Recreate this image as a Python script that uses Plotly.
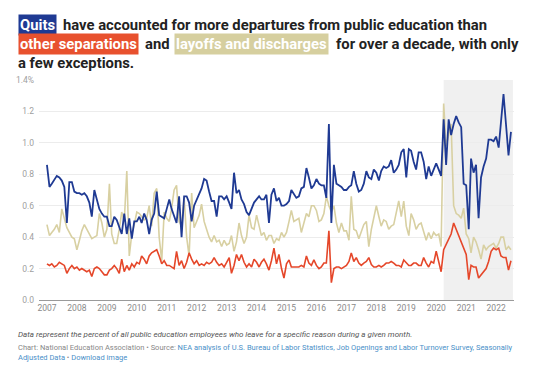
import pandas as pd
import plotly.graph_objects as go

# ---- data (percent of public education employees, monthly, Jan 2007 - Jul 2022) ----
quits = [
    0.86,0.72,0.74,0.77,0.79,0.78,0.76,0.72,0.49,0.75,0.75,0.69,   # 2007
    0.68,0.68,0.67,0.68,0.66,0.62,0.53,0.70,0.63,0.58,0.55,0.53,   # 2008
    0.53,0.47,0.47,0.53,0.51,0.46,0.42,0.55,0.42,0.52,0.39,0.50,   # 2009
    0.50,0.53,0.49,0.55,0.51,0.42,0.51,0.55,0.69,0.54,0.53,0.52,   # 2010
    0.58,0.64,0.58,0.53,0.49,0.66,0.40,0.66,0.66,0.62,0.50,0.60,   # 2011
    0.64,0.68,0.71,0.77,0.76,0.69,0.63,0.63,0.53,0.66,0.66,0.64,   # 2012
    0.66,0.62,0.58,0.81,0.68,0.70,0.64,0.61,0.56,0.54,0.58,0.62,   # 2013
    0.64,0.66,0.64,0.64,0.67,0.49,0.67,0.71,0.63,0.65,0.60,0.60,   # 2014
    0.61,0.63,0.70,0.67,0.65,0.66,0.71,0.72,0.84,0.78,0.71,0.73,   # 2015
    0.77,0.74,0.73,0.73,0.65,1.12,0.49,0.86,0.74,0.73,0.72,0.70,   # 2016
    0.70,0.72,0.73,0.82,0.74,0.69,0.70,0.74,0.82,0.78,0.77,0.83,   # 2017
    0.81,0.76,0.82,0.85,0.84,0.85,0.89,0.81,0.83,0.86,0.94,0.96,   # 2018
    0.78,0.96,0.95,0.88,0.83,0.94,0.94,0.88,0.77,0.85,0.79,0.83,   # 2019
    0.87,0.83,0.79,1.15,0.86,1.15,1.05,1.12,1.17,1.13,1.10,0.74,   # 2020
    0.73,0.45,0.90,0.81,0.86,0.52,0.78,0.85,0.90,1.02,1.02,1.01,   # 2021
    1.04,0.97,1.15,1.31,1.12,0.92,1.07,                            # 2022
]
layoffs = [
    0.48,0.41,0.43,0.45,0.48,0.43,0.58,0.52,0.46,0.43,0.40,0.39,
    0.32,0.38,0.44,0.48,0.45,0.42,0.39,0.40,0.41,0.55,0.49,0.40,
    0.45,0.74,0.42,0.36,0.36,0.45,0.56,0.50,0.82,0.28,0.42,0.48,
    0.56,0.55,0.53,0.51,0.52,0.60,0.47,0.68,0.71,0.40,0.25,0.56,
    0.52,0.50,0.58,0.70,0.73,0.50,0.47,0.65,0.40,0.28,0.68,0.46,
    0.50,0.54,0.61,0.50,0.45,0.40,0.37,0.41,0.37,0.38,0.34,0.38,
    0.35,0.36,0.41,0.31,0.37,0.49,0.41,0.36,0.40,0.54,0.46,0.45,
    0.54,0.48,0.41,0.43,0.38,0.41,0.41,0.36,0.39,0.38,0.43,0.40,
    0.43,0.50,0.57,0.50,0.51,0.52,0.43,0.49,0.55,0.53,0.60,0.60,
    0.57,0.50,0.51,0.55,0.66,0.60,0.56,0.60,0.49,0.43,0.49,0.44,
    0.44,0.38,0.66,0.45,0.44,0.39,0.43,0.48,0.50,0.34,0.45,0.52,
    0.60,0.53,0.47,0.51,0.50,0.45,0.47,0.48,0.55,0.63,0.53,0.63,
    0.47,0.41,0.55,0.51,0.45,0.48,0.49,0.43,0.38,0.43,0.39,0.43,
    0.41,0.42,0.34,1.25,0.98,1.05,1.12,0.60,0.55,0.54,0.52,0.585,
    0.42,0.39,0.30,0.40,0.37,0.32,0.26,0.35,0.32,0.34,0.35,0.36,
    0.33,0.36,0.40,0.40,0.32,0.34,0.32,
]
other = [
    0.23,0.22,0.23,0.21,0.22,0.24,0.23,0.22,0.17,0.20,0.22,0.20,
    0.21,0.19,0.20,0.19,0.18,0.19,0.15,0.20,0.21,0.20,0.18,0.16,
    0.16,0.19,0.20,0.22,0.20,0.17,0.26,0.18,0.22,0.19,0.23,0.21,
    0.24,0.23,0.28,0.26,0.23,0.28,0.30,0.31,0.32,0.28,0.23,0.25,
    0.22,0.22,0.21,0.20,0.31,0.22,0.25,0.20,0.24,0.30,0.26,0.23,
    0.25,0.22,0.23,0.22,0.24,0.23,0.24,0.27,0.24,0.22,0.23,0.21,
    0.24,0.27,0.17,0.22,0.29,0.25,0.29,0.24,0.21,0.23,0.21,0.26,
    0.24,0.21,0.24,0.26,0.23,0.19,0.25,0.33,0.23,0.29,0.20,0.14,
    0.23,0.255,0.21,0.21,0.21,0.21,0.22,0.21,0.28,0.235,0.22,0.255,
    0.22,0.20,0.21,0.235,0.235,0.44,0.11,0.20,0.21,0.21,0.20,0.21,
    0.22,0.245,0.30,0.245,0.27,0.235,0.22,0.235,0.245,0.27,0.225,0.21,
    0.21,0.22,0.21,0.22,0.235,0.235,0.245,0.235,0.22,0.22,0.21,0.255,
    0.235,0.22,0.22,0.235,0.235,0.22,0.22,0.27,0.235,0.21,0.245,0.235,
    0.31,0.245,0.18,0.32,0.35,0.38,0.42,0.49,0.45,0.40,0.36,0.32,
    0.29,0.13,0.22,0.21,0.21,0.14,0.16,0.18,0.20,0.245,0.31,0.33,
    0.32,0.33,0.28,0.27,0.27,0.19,0.25,
]
months = pd.date_range("2007-01-01", periods=len(quits), freq="MS")
year_ticks = list(range(2007, 2023))
y_ticks = [0.0, 0.2, 0.4, 0.6, 0.8, 1.0, 1.2, 1.4]
y_labels = ["0.0", "0.2", "0.4", "0.6", "0.8", "1.0", "1.2", "1.4%"]

BLUE = "#1f3a93"
RED = "#e5472a"
TAN = "#d8d0a2"

W, H = 540, 375
L, R, T, B = 39, 26, 80, 75
PW, PH = W - L - R, H - T - B

def px(x):
    return (x - L) / PW

def py(y):
    return (H - B - y) / PH

fig = go.Figure()
fig.add_trace(go.Scatter(x=months, y=layoffs, mode="lines", line=dict(color=TAN, width=1.6), hoverinfo="skip"))
fig.add_trace(go.Scatter(x=months, y=other, mode="lines", line=dict(color=RED, width=1.6), hoverinfo="skip"))
fig.add_trace(go.Scatter(x=months, y=quits, mode="lines", line=dict(color=BLUE, width=1.8), hoverinfo="skip"))

fig.add_shape(type="rect", xref="x", yref="y", x0="2020-04-01", x1="2022-07-25", y0=0, y1=1.4,
              fillcolor="#f0f0f0", line_width=0, layer="below")

FONT = "Roboto, 'Noto Sans', Arial, sans-serif"
TS = 14.8
ann = []
def box(text, x, y, bg):
    ann.append(dict(text="<b>" + text + "</b>", x=px(x), y=py(y), xref="paper", yref="paper",
                    xanchor="left", yanchor="middle", showarrow=False, bgcolor=bg, borderpad=1,
                    font=dict(family=FONT, size=TS, color="white")))
def txt(text, x, y, size=TS, color="#222222", bold=True):
    t = "<b>" + text + "</b>" if bold else text
    ann.append(dict(text=t, x=px(x), y=py(y), xref="paper", yref="paper",
                    xanchor="left", yanchor="middle", showarrow=False,
                    font=dict(family=FONT, size=size, color=color), align="left"))

box("Quits", 18, 25, BLUE)
txt("have accounted for more departures from public education than", 60.5, 25)
box("other separations", 18, 44, "#e8512e")
txt("and", 143, 44)
box("layoffs and discharges", 174, 44, "#d6cf9f")
txt("for over a decade, with only", 334, 44)
txt("a few exceptions.", 16, 63)

ann.append(dict(text="<i>Data represent the percent of all public education employees who leave for a specific reason during a given month.</i>",
                x=px(16), y=py(334), xref="paper", yref="paper", xanchor="left", yanchor="middle",
                showarrow=False, font=dict(family=FONT, size=8, color="#555555")))
LINK = "#4a90c8"
ann.append(dict(text=("Chart: National Education Association • Source: "
                      f"<span style='color:{LINK}'>NEA analysis of U.S. Bureau of Labor Statistics, Job Openings and Labor Turnover Survey, Seasonally</span><br>"
                      f"<span style='color:{LINK}'>Adjusted Data</span> • <span style='color:{LINK}'>Download image</span>"),
                x=px(16), y=py(341), xref="paper", yref="paper", xanchor="left", yanchor="top",
                showarrow=False, align="left", font=dict(family=FONT, size=7.5, color="#888888")))

fig.update_layout(
    width=W, height=H, margin=dict(l=L, r=R, t=T, b=B),
    paper_bgcolor="white", plot_bgcolor="white", showlegend=False,
    annotations=ann,
    font=dict(family=FONT),
)
fig.update_xaxes(
    type="date", range=["2006-09-26", "2022-08-07"],
    tickvals=[f"{y}-01-01" for y in year_ticks], ticktext=[str(y) for y in year_ticks],
    showgrid=False, showline=True, linecolor="#9a9a9a", linewidth=1,
    ticks="", tickfont=dict(family=FONT, size=8.5, color="#8a8a8a"), zeroline=False,
)
fig.update_yaxes(
    range=[0, 1.4], tickvals=y_ticks, ticktext=y_labels,
    showgrid=True, gridcolor="#ececec", gridwidth=1, zeroline=False, showline=False,
    ticks="", tickfont=dict(family=FONT, size=8.5, color="#a0a0a0"), ticklabelstandoff=4,
)

fig.write_html("out.html", config={"displayModeBar": False},
               post_script="document.body.style.margin='0';document.body.style.padding='0';")
